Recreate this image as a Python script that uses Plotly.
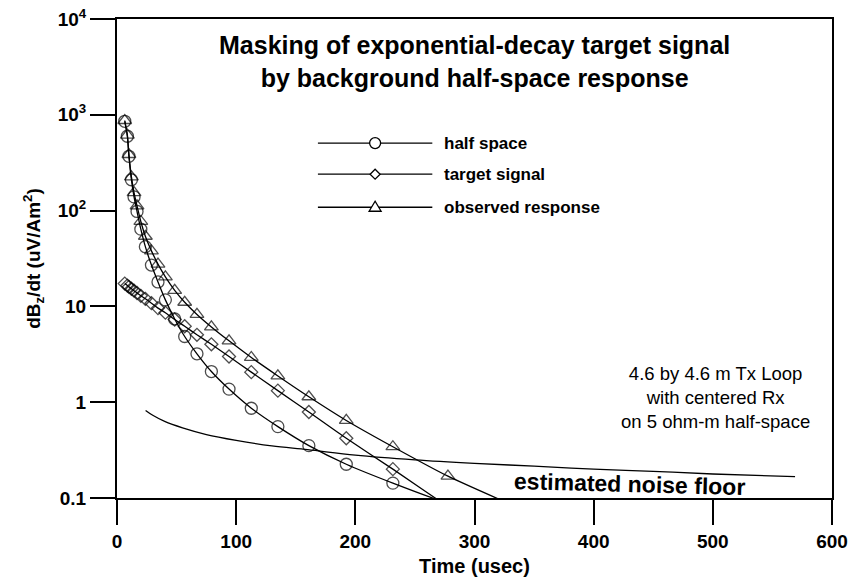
import math
import plotly.graph_objects as go

# ---- data ----
time_us = [6.5, 8.7, 10.0, 12.1, 14.3, 16.8, 20.0, 23.8, 28.9, 34.4, 40.6, 48.4,
           56.8, 67.1, 79.2, 94.0, 112.7, 135.0, 161.0, 192.4, 231.5, 277.7, 333.0]
half_space = [855, 597, 369, 210, 139, 98, 64, 42, 27, 18, 11.7, 7.4,
              4.85, 3.2, 2.09, 1.37, 0.865, 0.556, 0.352, 0.225, 0.143, 0.088, 0.056]
target_signal = [17.3, 16.5, 16.0, 15.3, 14.6, 13.8, 12.9, 12.0, 10.8, 9.6, 8.6, 7.3,
                 6.2, 5.05, 4.02, 3.0, 2.06, 1.32, 0.79, 0.42, 0.20, 0.081, 0.027]
observed = [872, 614, 385, 225, 154, 112, 77, 54, 38, 27.6, 20.3, 14.7,
            11.05, 8.25, 6.11, 4.37, 2.93, 1.88, 1.14, 0.645, 0.343, 0.169, 0.083]
# number of gates drawn with a marker in each series (the rest run below the axis)
marked_gates = [21, 21, 22]

noise_t = [24, 30, 40, 55, 75, 100, 130, 160, 200, 250, 300, 350, 400, 450, 500, 569]
noise_v = [0.82, 0.73, 0.63, 0.54, 0.46, 0.40, 0.35, 0.32, 0.28, 0.25, 0.23,
           0.215, 0.20, 0.19, 0.178, 0.167]

series_names = ["half space", "target signal", "observed response"]
y_tickvals = [0.1, 1, 10, 100, 1000, 10000]
y_ticktext = ["0.1", "1", "10", "10<sup>2</sup>", "10<sup>3</sup>", "10<sup>4</sup>"]
x_tickvals = [0, 100, 200, 300, 400, 500, 600]
x_minor_vals = [50, 150, 250, 350, 450, 550]
x_range = [0, 600]
y_log_range = [-1, 4]

W, H = 853, 580
M = dict(l=117, r=21, t=19, b=82)
PLOT_W = W - M["l"] - M["r"]
PLOT_H = H - M["t"] - M["b"]
MAJOR_LEN, MINOR_LEN = 25, 12

FONT = "Liberation Sans, Arial, sans-serif"
BOLD = dict(family=FONT, color="black", weight="bold")

fig = go.Figure()

styles = [
    dict(symbol="circle-open", size=12),
    dict(symbol="diamond-open", size=10),
    dict(symbol="triangle-up-open", size=12),
]
for vals, st, nm in zip([half_space, target_signal, observed], styles, marked_gates):
    sizes = [st["size"] if i < nm else 0 for i in range(len(vals))]
    fig.add_trace(go.Scatter(
        x=time_us, y=vals, mode="lines+markers",
        line=dict(color="black", width=1.3, shape="spline", smoothing=0.6),
        marker=dict(symbol=st["symbol"], size=sizes, color="black",
                    line=dict(color="black", width=1.3)),
        showlegend=False))

fig.add_trace(go.Scatter(
    x=noise_t, y=noise_v, mode="lines",
    line=dict(color="black", width=1.3, shape="spline"),
    showlegend=False))

# ---- tick marks as line-shaped markers outside the plot area ----
fig.add_trace(go.Scatter(
    x=x_tickvals, y=[-MAJOR_LEN / 2 / PLOT_H] * len(x_tickvals), xaxis="x", yaxis="y3",
    mode="markers", cliponaxis=False, showlegend=False, hoverinfo="skip",
    marker=dict(symbol="line-ns-open", size=MAJOR_LEN, color="black",
                line=dict(color="black", width=2))))
fig.add_trace(go.Scatter(
    x=x_minor_vals, y=[-MINOR_LEN / 2 / PLOT_H] * len(x_minor_vals), xaxis="x", yaxis="y3",
    mode="markers", cliponaxis=False, showlegend=False, hoverinfo="skip",
    marker=dict(symbol="line-ns-open", size=MINOR_LEN, color="black",
                line=dict(color="black", width=2))))
fig.add_trace(go.Scatter(
    x=[-MAJOR_LEN / 2 / PLOT_W] * len(y_tickvals), y=y_tickvals, xaxis="x3", yaxis="y",
    mode="markers", cliponaxis=False, showlegend=False, hoverinfo="skip",
    marker=dict(symbol="line-ew-open", size=MAJOR_LEN, color="black",
                line=dict(color="black", width=2))))

# ---- manual legend (long line samples), drawn as shapes ----
leg_rows = [0.741, 0.676, 0.607]
leg_x0, leg_x1, leg_xm, leg_tx = 0.281, 0.441, 0.361, 0.455
leg_paths = [None, "M0,5 L5,0 L0,-5 L-5,0 Z", "M-6,-4 L6,-4 L0,6 Z"]
for name, row, path in zip(series_names, leg_rows, leg_paths):
    fig.add_shape(type="line", xref="paper", yref="paper", x0=leg_x0, x1=leg_x1,
                  y0=row, y1=row, line=dict(color="black", width=1.3))
    common = dict(xref="paper", yref="paper", xsizemode="pixel", ysizemode="pixel",
                  xanchor=leg_xm, yanchor=row, fillcolor="white",
                  line=dict(color="black", width=1.3))
    if path is None:
        fig.add_shape(type="circle", x0=-5.5, x1=5.5, y0=-5.5, y1=5.5, **common)
    else:
        fig.add_shape(type="path", path=path, **common)
    fig.add_annotation(xref="paper", yref="paper", x=leg_tx, y=row, text=name,
                       showarrow=False, xanchor="left", yanchor="middle",
                       font=dict(size=17, **BOLD))

fig.add_annotation(xref="paper", yref="paper", x=0.5, y=0.912,
                   text="Masking of exponential-decay target signal<br>by background half-space response",
                   showarrow=False, xanchor="center", yanchor="middle",
                   font=dict(size=25, **BOLD))
fig.add_annotation(x=502, y=0.045, text="4.6 by 4.6 m Tx Loop<br>with centered Rx<br>on 5 ohm-m half-space",
                   showarrow=False, xanchor="center", yanchor="middle",
                   font=dict(size=18.5, family=FONT, color="black"))
fig.add_annotation(x=430, y=-0.854, text="estimated noise floor", textangle=1.5,
                   showarrow=False, xanchor="center", yanchor="middle",
                   font=dict(size=23, **BOLD))

fig.update_layout(
    width=W, height=H,
    margin=M,
    paper_bgcolor="white", plot_bgcolor="white",
    xaxis=dict(range=x_range, tickvals=x_tickvals, ticks="outside", ticklen=MAJOR_LEN,
               tickwidth=2, tickcolor="black", showline=True, linecolor="black",
               linewidth=2, mirror=True, showgrid=False, zeroline=False,
               automargin=False, ticklabeloverflow="allow",
               tickfont=dict(size=19, **BOLD),
               title=dict(text="Time (usec)", font=dict(size=20, **BOLD), standoff=8)),
    yaxis=dict(type="log", range=y_log_range, tickvals=y_tickvals, ticktext=y_ticktext,
               ticks="outside", ticklen=MAJOR_LEN, tickwidth=2, tickcolor="black",
               showline=True, linecolor="black", linewidth=2, mirror=True,
               showgrid=False, zeroline=False, automargin=False,
               ticklabeloverflow="allow", tickfont=dict(size=19, **BOLD),
               title=dict(text="dB<sub>z</sub>/dt (uV/Am<sup>2</sup>)",
                          font=dict(size=19, **BOLD), standoff=12)),
    xaxis3=dict(overlaying="x", range=[0, 1], visible=False, fixedrange=True),
    yaxis3=dict(overlaying="y", range=[0, 1], visible=False, fixedrange=True),
)

fig.write_html("out.html", config={"responsive": False, "displayModeBar": False},
               post_script="document.body.style.margin='0';document.body.style.overflow='hidden';")
